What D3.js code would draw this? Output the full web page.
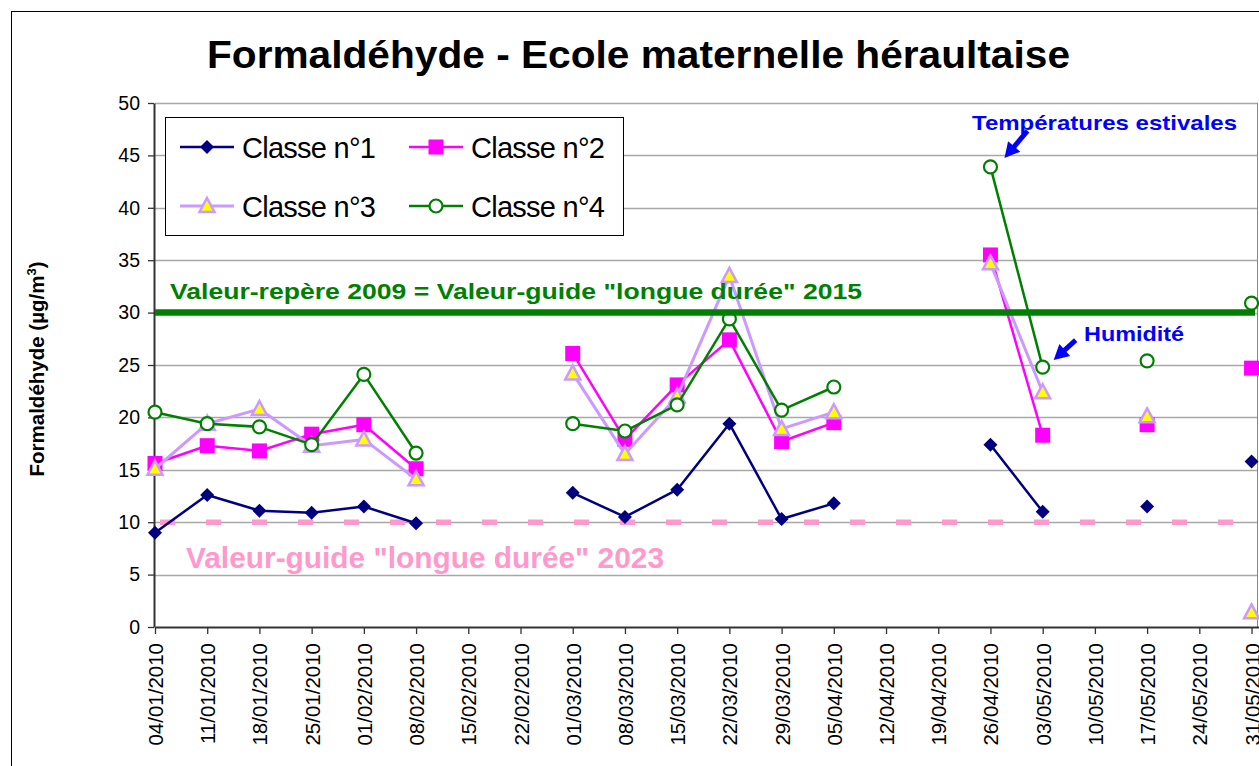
<!DOCTYPE html>
<html>
<head>
<meta charset="utf-8">
<script src="https://cdn.jsdelivr.net/npm/d3@7"></script>
<style>
  html, body { margin: 0; padding: 0; background: #fff; }
  svg { display: block; font-family: Arial, "Liberation Sans", sans-serif; }
</style>
</head>
<body>
<svg id="chart" width="1259" height="766"></svg>
<script>
// --- données -------------------------------------------------------
const dates = ["04/01/2010","11/01/2010","18/01/2010","25/01/2010","01/02/2010","08/02/2010",
  "15/02/2010","22/02/2010","01/03/2010","08/03/2010","15/03/2010","22/03/2010","29/03/2010",
  "05/04/2010","12/04/2010","19/04/2010","26/04/2010","03/05/2010","10/05/2010","17/05/2010",
  "24/05/2010","31/05/2010"];

const classe1 = [9.0, 12.6, 11.1, 10.9, 11.5, 9.9, null, null, 12.8, 10.5, 13.1, 19.4, 10.3, 11.8, null, null, 17.4, 11.0, null, 11.5, null, 15.8];
const classe2 = [15.6, 17.3, 16.8, 18.4, 19.3, 15.1, null, null, 26.1, 17.9, 23.1, 27.4, 17.7, 19.5, null, null, 35.5, 18.3, null, 19.3, null, 24.7];
const classe3 = [15.1, 19.4, 20.8, 17.3, 17.9, 14.1, null, null, 24.2, 16.5, 22.0, 33.5, 18.9, 20.5, null, null, 34.7, 22.4, null, 20.1, null, 1.4];
const classe4 = [20.5, 19.4, 19.1, 17.4, 24.1, 16.6, null, null, 19.4, 18.7, 21.2, 29.4, 20.7, 22.9, null, null, 43.9, 24.8, null, 25.4, null, 30.9];

const yTicks = [0, 5, 10, 15, 20, 25, 30, 35, 40, 45, 50];
const valeurRepere2015 = 30;   // valeur-guide longue durée 2015
const valeurGuide2023 = 10;    // valeur-guide longue durée 2023

// --- mise en page ---------------------------------------------------
const parse = d3.timeParse("%d/%m/%Y");
const svg = d3.select("#chart");
const pLeft = 155, pRight = 1259, pTop = 103, pBottom = 627;

const x = d3.scaleTime()
  .domain([parse("04/01/2010"), parse("01/06/2010")])
  .range([pLeft, pRight]);
const y = d3.scaleLinear().domain([0, 50]).range([pBottom, pTop]);

// cadre du graphique
svg.append("rect").attr("x", 11.5).attr("y", 11.5)
  .attr("width", 1300).attr("height", 800)
  .attr("fill", "#fff").attr("stroke", "#000").attr("stroke-width", 1);

// titre
svg.append("text").attr("x", 207).attr("y", 68)
  .attr("font-size", 38).attr("font-weight", "bold")
  .attr("textLength", 863).attr("lengthAdjust", "spacingAndGlyphs")
  .text("Formaldéhyde - Ecole maternelle héraultaise");

// grille
svg.append("g").selectAll("line").data(yTicks.filter(t => t > 0)).join("line")
  .attr("x1", pLeft).attr("x2", pRight - 1)
  .attr("y1", d => Math.round(y(d)) + 0.5).attr("y2", d => Math.round(y(d)) + 0.5)
  .attr("stroke", "#a8a8a8").attr("stroke-width", 1.3);

// bord droit de la zone de tracé
svg.append("line").attr("x1", pRight - 1.5).attr("x2", pRight - 1.5)
  .attr("y1", pTop).attr("y2", pBottom).attr("stroke", "#888");

// axe Y
const yAxis = svg.append("g")
  .attr("transform", `translate(${pLeft - 1},0)`)
  .call(d3.axisLeft(y).tickValues(yTicks).tickSize(6).tickSizeOuter(0).tickPadding(8));
yAxis.select(".domain").attr("stroke", "#333").attr("stroke-width", 2);
yAxis.selectAll(".tick line").attr("stroke", "#333").attr("stroke-width", 1.3);
yAxis.selectAll(".tick text").attr("font-size", 19.5).attr("fill", "#000")
  .attr("font-family", "Arial, 'Liberation Sans', sans-serif");

// axe X
const xAxis = svg.append("g")
  .attr("transform", `translate(0,${pBottom})`)
  .call(d3.axisBottom(x).tickValues(dates.map(parse)).tickSize(7).tickSizeOuter(0)
    .tickFormat(d3.timeFormat("%d/%m/%Y")));
xAxis.select(".domain").attr("stroke", "#333").attr("stroke-width", 2);
xAxis.selectAll(".tick line").attr("stroke", "#333").attr("stroke-width", 1.3);
xAxis.selectAll(".tick text")
  .attr("font-size", 20.5).attr("fill", "#000")
  .attr("font-family", "Arial, 'Liberation Sans', sans-serif")
  .attr("text-anchor", "end")
  .attr("dy", null)
  .attr("dominant-baseline", "central")
  .attr("transform", "translate(0,16) rotate(-90)")
  .attr("x", 0).attr("y", 0);

// titre axe Y
svg.append("text")
  .attr("transform", "translate(44,369) rotate(-90)")
  .attr("text-anchor", "middle")
  .attr("font-size", 20.5).attr("font-weight", "bold")
  .html('Formaldéhyde (µg/m<tspan dy="-8" font-size="13">3</tspan><tspan dy="8">)</tspan>');

// valeur-guide 2023 (pointillés roses)
svg.append("line")
  .attr("x1", pLeft + 5).attr("x2", pRight - 4)
  .attr("y1", y(valeurGuide2023)).attr("y2", y(valeurGuide2023))
  .attr("stroke", "#ff99cc").attr("stroke-width", 5.5)
  .attr("stroke-dasharray", "15,31");

// séries
const series = [
  { name: "Classe n°1", values: classe1, color: "#000080", width: 2.5, marker: "diamond" },
  { name: "Classe n°2", values: classe2, color: "#ff00ff", width: 2.5, marker: "square" },
  { name: "Classe n°3", values: classe3, color: "#cc99ff", width: 3, marker: "triangle" },
  { name: "Classe n°4", values: classe4, color: "#008000", width: 2.5, marker: "circle" }
];

const line = d3.line()
  .defined(d => d.v != null)
  .x(d => x(d.date)).y(d => y(d.v));

function drawMarker(g, type, color) {
  if (type === "diamond") {
    g.append("path").attr("d", "M0,-7L7,0L0,7L-7,0Z")
      .attr("fill", color);
  } else if (type === "square") {
    g.append("rect").attr("x", -7.5).attr("y", -7.5).attr("width", 15).attr("height", 15)
      .attr("fill", color);
  } else if (type === "triangle") {
    g.append("path").attr("d", "M0,-8L7.5,6L-7.5,6Z")
      .attr("fill", "#ffff00").attr("stroke", color).attr("stroke-width", 2.5)
      .attr("stroke-linejoin", "miter");
  } else {
    g.append("circle").attr("r", 6.5)
      .attr("fill", "#fff").attr("stroke", color).attr("stroke-width", 2.2);
  }
}

series.forEach(s => {
  const pts = dates.map((d, i) => ({ date: parse(d), v: s.values[i] }));
  svg.append("path").datum(pts)
    .attr("d", line)
    .attr("fill", "none").attr("stroke", s.color).attr("stroke-width", s.width)
    .attr("stroke-linejoin", "round");
  svg.append("g").selectAll("g").data(pts.filter(p => p.v != null)).join("g")
    .attr("transform", p => `translate(${x(p.date)},${y(p.v)})`)
    .each(function () { drawMarker(d3.select(this), s.marker, s.color); });
});

// valeur-repère 2015 (trait vert épais)
svg.append("line")
  .attr("x1", pLeft).attr("x2", pRight - 4)
  .attr("y1", y(valeurRepere2015)).attr("y2", y(valeurRepere2015))
  .attr("stroke", "#008000").attr("stroke-width", 6.5);

svg.append("text").attr("x", 170).attr("y", 299)
  .attr("font-size", 22.5).attr("font-weight", "bold").attr("fill", "#008000")
  .attr("textLength", 692).attr("lengthAdjust", "spacingAndGlyphs")
  .text('Valeur-repère 2009 = Valeur-guide "longue durée" 2015');

svg.append("text").attr("x", 186).attr("y", 568)
  .attr("font-size", 29.5).attr("font-weight", "bold").attr("fill", "#ff99cc")
  .attr("textLength", 478).attr("lengthAdjust", "spacingAndGlyphs")
  .text('Valeur-guide "longue durée" 2023');

// annotations
const blue = "#0000ff";
function arrow(tipX, tipY, tailX, tailY) {
  const ang = Math.atan2(tipY - tailY, tipX - tailX);
  const len = Math.hypot(tipX - tailX, tipY - tailY);
  const g = svg.append("g")
    .attr("transform", `translate(${tipX},${tipY}) rotate(${ang * 180 / Math.PI})`);
  g.append("line").attr("x1", -len).attr("x2", -10).attr("y1", 0).attr("y2", 0)
    .attr("stroke", blue).attr("stroke-width", 5);
  g.append("path").attr("d", "M0,0L-15,-8L-15,8Z").attr("fill", blue);
}

const dAvr = parse("26/04/2010"), dMai = parse("03/05/2010");
arrow(x(dAvr) + 14, y(classe4[16]) - 9, x(dAvr) + 37, y(classe4[16]) - 36);
svg.append("text").attr("x", 972).attr("y", 130)
  .attr("font-size", 21).attr("font-weight", "bold").attr("fill", blue)
  .attr("textLength", 265).attr("lengthAdjust", "spacingAndGlyphs")
  .text("Températures estivales");

arrow(x(dMai) + 11, y(classe4[17]) - 7, x(dMai) + 33, y(classe4[17]) - 27);
svg.append("text").attr("x", 1084).attr("y", 341)
  .attr("font-size", 21).attr("font-weight", "bold").attr("fill", blue)
  .attr("textLength", 100).attr("lengthAdjust", "spacingAndGlyphs")
  .text("Humidité");

// légende
const leg = svg.append("g");
leg.append("rect").attr("x", 165.5).attr("y", 117.5).attr("width", 458).attr("height", 118)
  .attr("fill", "#fff").attr("stroke", "#000").attr("stroke-width", 1);
const legPos = [[180, 147], [409, 147], [180, 206], [409, 206]];
series.forEach((s, i) => {
  const [lx, ly] = legPos[i];
  const g = leg.append("g").attr("transform", `translate(${lx},${ly})`);
  g.append("line").attr("x1", 0).attr("x2", 54).attr("y1", 0).attr("y2", 0)
    .attr("stroke", s.color).attr("stroke-width", s.width);
  drawMarker(g.append("g").attr("transform", "translate(27,0)"), s.marker, s.color);
  g.append("text").attr("x", 62).attr("y", 11).attr("font-size", 29)
    .attr("textLength", 134).attr("lengthAdjust", "spacing")
    .text(s.name);
});
</script>
</body>
</html>
